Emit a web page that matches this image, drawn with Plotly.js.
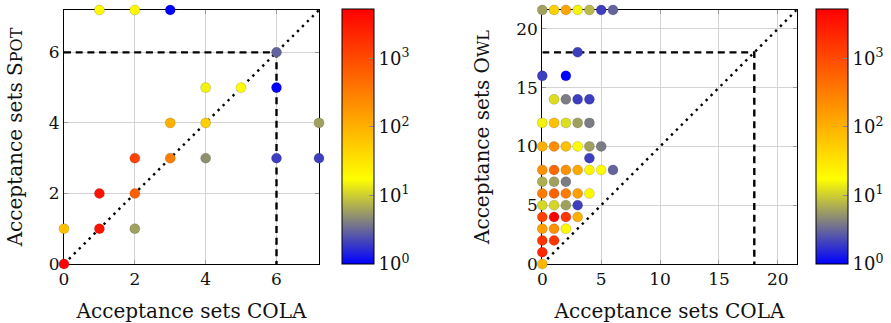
<!DOCTYPE html>
<html><head><meta charset="utf-8">
<script src="https://cdn.plot.ly/plotly-3.0.1.min.js"></script>
<style>html,body{margin:0;padding:0;background:#fff}</style>
</head><body><div id="chart" style="width:891px;height:323px"></div>
<script>
// Left panel: COLA vs SPOT (values beyond the axis are shown on its edge)
const spotEdge = 7.2;
const spotLimit = 6;
const spotCola  = [0, 0, 1, 1, 2, 2, 2, 3, 3, 4, 4, 4, 5, 6, 6, 6, 7.2, 7.2, 1, 2, 3];
const spotSpot  = [0, 1, 1, 2, 1, 2, 3, 3, 4, 3, 4, 5, 5, 5, 6, 3, 3, 4, 7.2, 7.2, 7.2];
const spotCount = [5000, 70, 3500, 3500, 6, 600, 1200, 300, 100, 5, 50, 15, 18, 1, 3, 2, 2, 6, 20, 20, 1];

// Right panel: COLA vs OWL
const owlEdge = 21.6;
const owlLimit = 18;
const owlCola = [0,1,2,3,4,5,6, 3, 0,2, 1,2,3,4, 0,1,2,3,4, 0,1,2,3,4,5, 4, 0,1,2,3,4,5,6, 0,1,2, 0,1,2,3,4, 0,1,2,3, 0,1,2,3, 0,1,2, 0,1, 0, 0];
const owlOwl  = [21.6,21.6,21.6,21.6,21.6,21.6,21.6, 18, 16,16, 14,14,14,14, 12,12,12,12,12, 10,10,10,10,10,10, 9, 8,8,8,8,8,8,8, 7,7,7, 6,6,6,6,6, 5,5,5,5, 4,4,4,4, 3,3,3, 2,2, 1, 0];
const owlCount = [6,50,130,15,8,2,3, 2, 2,1, 12,4,2,2, 15,70,12,6,4, 100,220,70,18,6,4, 2, 200,500,200,120,22,17,3, 7,6,4, 330,600,330,150,20, 11,11,6,2, 1200,5000,1600,100, 150,200,20, 1600,1600, 2200, 90];

// Colour bar
const cbTickVals = [0, 1, 2, 3];
const cbTickText = ['10<sup>0</sup>', '10<sup>1</sup>', '10<sup>2</sup>', '10<sup>3</sup>'];
const logMax = 3.72;

const xTicksL = [0, 2, 4, 6];
const yTicksL = [0, 2, 4, 6];
const xTicksR = [0, 5, 10, 15, 20];
const yTicksR = [0, 5, 10, 15, 20];

const W = 891, H = 323;
const FONT = 'DejaVu Serif';
const scale = [[0, '#0000ff'], [1/6, '#808080'], [1/3, '#ffff00'], [2/3, '#ff8000'], [1, '#ff0000']];
const CB_BOTTOM = 59, CB_LEN = 254.5, CB_W = 32;
const cbLefts = [342, 816];

function cb(xpx) {
  return {
    x: xpx / W, xanchor: 'left', xref: 'paper', xpad: 0, ypad: 0,
    y: CB_BOTTOM / H, yanchor: 'bottom', yref: 'paper',
    lenmode: 'pixels', len: CB_LEN, thickness: CB_W, thicknessmode: 'pixels',
    outlinewidth: 1, outlinecolor: '#000',
    tickvals: cbTickVals, ticktext: cbTickText,
    ticks: 'inside', ticklen: 5, tickcolor: '#888', tickwidth: 1,
    tickfont: {family: FONT, size: 18, color: '#111'}
  };
}

function scatter(x, y, c, xa, ya, cbx) {
  return {
    type: 'scatter', mode: 'markers', x: x, y: y, xaxis: xa, yaxis: ya,
    cliponaxis: false, hoverinfo: 'x+y+text', text: c.map(String),
    marker: {
      size: 10, color: c.map(v => Math.log10(v)), cmin: 0, cmax: logMax,
      colorscale: scale, showscale: true, colorbar: cb(cbx),
      line: {width: 0.6, color: 'rgba(0,0,0,0.25)'}
    },
    showlegend: false
  };
}

function refLines(limit, edge, xa, ya) {
  return [
    {type: 'scatter', mode: 'lines', x: [0, edge], y: [0, edge], xaxis: xa, yaxis: ya,
     line: {color: '#000', width: 2.4, dash: '2.4px,4.6px'}, hoverinfo: 'skip', showlegend: false},
    {type: 'scatter', mode: 'lines', x: [0, limit, limit], y: [limit, limit, 0], xaxis: xa, yaxis: ya,
     line: {color: '#000', width: 2.4, dash: '7px,4.7px'}, hoverinfo: 'skip', showlegend: false}
  ];
}

const data = [
  ...refLines(spotLimit, spotEdge, 'x', 'y'),
  ...refLines(owlLimit, owlEdge, 'x2', 'y2'),
  scatter(spotCola, spotSpot, spotCount, 'x', 'y', cbLefts[0]),
  scatter(owlCola, owlOwl, owlCount, 'x2', 'y2', cbLefts[1])
];

function axis(dom, range, ticks, title, standoff) {
  return {
    domain: dom, range: range, tickvals: ticks, autorange: false,
    showgrid: true, gridcolor: '#d4d4d4', gridwidth: 1, zeroline: false,
    showline: true, linecolor: '#000', linewidth: 1, mirror: 'ticks',
    ticks: 'inside', ticklen: 4, tickcolor: '#999', tickwidth: 1,
    tickfont: {family: FONT, size: 17, color: '#111'},
    title: {text: title, font: {family: FONT, size: 20, color: '#111'}, standoff: standoff},
    automargin: false, layer: 'below traces'
  };
}

// gray tick marks on the left edge of each colour bar (pgfplots style)
const shapes = [];
cbLefts.forEach(left => {
  cbTickVals.slice(1).forEach(v => {
    const yp = (CB_BOTTOM + v / logMax * CB_LEN) / H;
    shapes.push({type: 'line', xref: 'paper', yref: 'paper',
      x0: (left + 0.5) / W, x1: (left + 5.5) / W, y0: yp, y1: yp,
      line: {color: '#888', width: 1}});
  });
});

const yDom = [59 / H, 313 / H];
const layout = {
  width: W, height: H, margin: {l: 0, r: 0, t: 0, b: 0},
  paper_bgcolor: '#fff', plot_bgcolor: '#fff',
  font: {family: FONT},
  shapes: shapes,
  xaxis: axis([64 / W, 319 / W], [0, spotEdge], xTicksL, 'Acceptance sets COLA', 16),
  yaxis: Object.assign(axis(yDom, [0, spotEdge], yTicksL, 'Acceptance sets S<span style="font-size:16px">POT</span>', 20), {anchor: 'x'}),
  xaxis2: Object.assign(axis([542.3 / W, 796.7 / W], [0, owlEdge], xTicksR, 'Acceptance sets COLA', 16), {anchor: 'y2'}),
  yaxis2: Object.assign(axis(yDom, [0, owlEdge], yTicksR, 'Acceptance sets O<span style="font-size:16px">WL</span>', 21), {anchor: 'x2'})
};
layout.xaxis.anchor = 'y';

Plotly.newPlot('chart', data, layout, {displayModeBar: false, staticPlot: true});
</script></body></html>
